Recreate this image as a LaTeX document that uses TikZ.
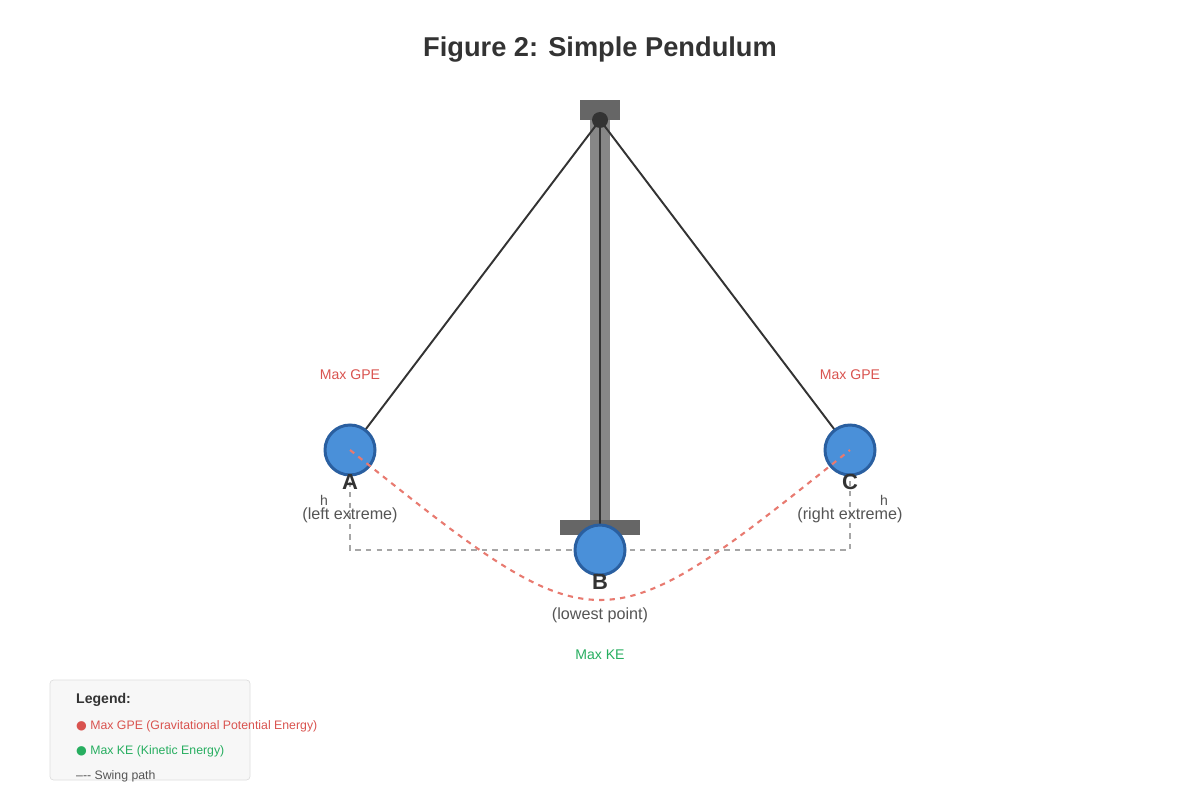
\documentclass[tikz,border=0pt]{standalone}
\usepackage{fontspec}
\setmainfont{Liberation Sans}
\newfontfamily\symfont{DejaVu Sans}
\definecolor{bobfill}{HTML}{4A90D9}
\definecolor{bobline}{HTML}{2A5FA0}
\definecolor{gpered}{HTML}{D9534F}
\definecolor{kegreen}{HTML}{27AE60}
\definecolor{swing}{HTML}{E87A70}
\definecolor{txtgray}{HTML}{555555}
\begin{document}
\begin{tikzpicture}
        [
          x=0.02cm, y=-0.02cm,
          bob/.style={circle,minimum size=50*0.02cm,inner sep=0pt,fill=bobfill,draw=bobline,line width=1.7pt},
          letter/.style={font=\fontsize{12.5}{14}\selectfont\bfseries,text=black!80},
          sub/.style={font=\fontsize{9.2}{11}\selectfont,text=txtgray},
          note/.style={font=\fontsize{8}{10}\selectfont},
          legend/.style={font=\fontsize{7}{9}\selectfont,anchor=west}
        ]
        \useasboundingbox (0,0) rectangle (1200,800);
        % title
        \node [font=\fontsize{15.5}{18}\selectfont\bfseries,text=black!80] (title) at (600,50) {Figure 2: Simple Pendulum};
        % stand
        \fill [black!60] (580,100) rectangle (620,120);
        \fill [black!47] (590,120) rectangle (610,530);
        \fill [black!60] (560,520) rectangle (640,535);
        % height guides
        \draw [black!35,dashed,line width=0.6pt] (350,450) -- (350,550) -- (850,550) -- (850,450);
        % strings
        \coordinate (pivot) at (600,120);
        \coordinate (a) at (350,450);
        \coordinate (b) at (600,550);
        \coordinate (c) at (850,450);
        \draw [black!80,line width=1.1pt] (pivot) -- (a);
        \draw [black!80,line width=1.1pt] (pivot) -- (c);
        \draw [black!80,line width=1.1pt] (pivot) -- (b);
        \fill [black!80] (pivot) circle (8);
        % bobs
        \node [bob] (bobA) at (a) {};
        \node [bob] (bobB) at (b) {};
        \node [bob] (bobC) at (c) {};
        % swing path
        \draw [swing,dashed,line width=1.2pt] (a) .. controls (600,650) .. (c);
        % labels
        \node [letter] (lA) at (350,482) {A};
        \node [letter] (lB) at (600,582) {B};
        \node [letter] (lC) at (850,482) {C};
        \node [sub] (dA) at (350,515) {(left extreme)};
        \node [sub] (dB) at (600,615) {(lowest point)};
        \node [sub] (dC) at (850,515) {(right extreme)};
        \node [note,text=gpered] (gA) at (350,375) {Max GPE};
        \node [note,text=gpered] (gC) at (850,375) {Max GPE};
        \node [note,text=kegreen] (kB) at (600,655) {Max KE};
        \node [note,text=txtgray] (hA) at (324,500) {h};
        \node [note,text=txtgray] (hC) at (884,500) {h};
        % legend
        \draw [fill=black!3,draw=black!13,rounded corners=2pt] (50,680) rectangle (250,780);
        \node [legend,font=\fontsize{8}{10}\selectfont\bfseries,text=black!80] (lg) at (70,700) {Legend:};
        \node [legend,text=gpered] (lg1) at (70,726) {{\symfont ●} Max GPE (Gravitational Potential Energy)};
        \node [legend,text=kegreen] (lg2) at (70,751) {{\symfont ●} Max KE (Kinetic Energy)};
        \node [legend,text=txtgray] (lg3) at (70,776) {--{}-{}- Swing path};
      \end{tikzpicture}
\end{document}
